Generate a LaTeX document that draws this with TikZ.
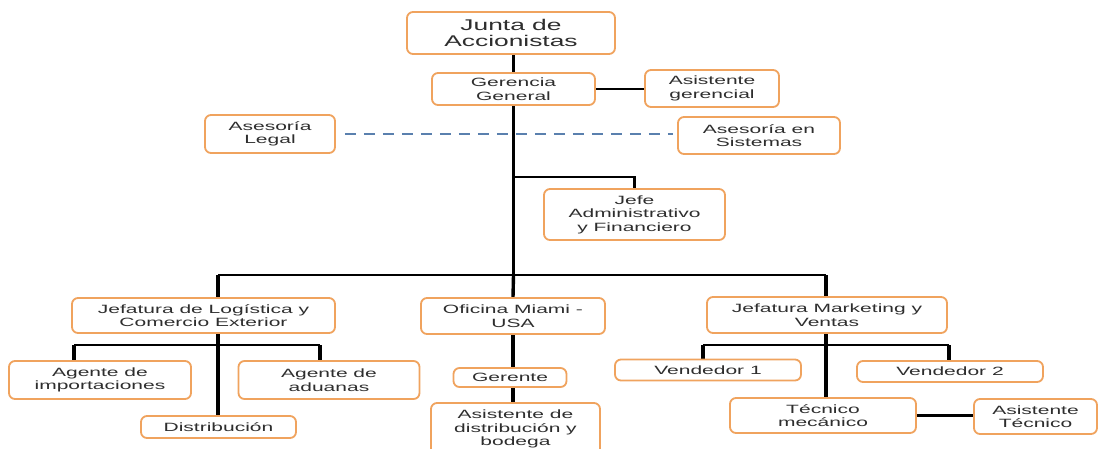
\documentclass[tikz,border=0pt]{standalone}
\usepackage{fontspec}
\setmainfont{Liberation Sans}
\newfontfamily\wf[FakeStretch=1.75]{Liberation Sans}
\newfontfamily\jf[FakeStretch=1.7]{Liberation Sans}
\usetikzlibrary{backgrounds}
\definecolor{boxor}{HTML}{F0A35E}
\definecolor{txt}{HTML}{2E2E2E}
\definecolor{dashc}{HTML}{5A80AE}
\begin{document}
\begin{tikzpicture}[x=1pt,y=-1pt,
  box/.style={draw=boxor, line width=1.8pt, rounded corners=6pt, fill=white,
    align=center, inner sep=1pt, text=txt,
    font={\wf\fontsize{12}{13.5}\selectfont}},
  conn/.style={draw=black, line width=2.4pt},
  vconn/.style={draw=black, line width=3.4pt},
  dashline/.style={draw=dashc, line width=1.8pt, dash pattern=on 11pt off 8pt}]
\useasboundingbox (0,0) rectangle (1099,448);
% nodes
\node[box, minimum width=208pt, minimum height=42pt, font={\jf\fontsize{15.5}{16}\selectfont}] (junta) at (511,33) {Junta de\\Accionistas};
\node[box, minimum width=163pt, minimum height=32pt] (gg) at (513.5,89) {Gerencia\\General};
\node[box, minimum width=134pt, minimum height=37pt] (asg) at (712,88.5) {Asistente\\gerencial};
\node[box, minimum width=130pt, minimum height=38pt] (legal) at (270,134) {Asesoría\\Legal};
\node[box, minimum width=162pt, minimum height=37pt] (sist) at (759,135.5) {Asesoría en\\Sistemas};
\node[box, minimum width=181pt, minimum height=51pt] (jefe) at (634.5,214.5) {Jefe\\Administrativo\\y Financiero};
\node[box, minimum width=263pt, minimum height=35pt] (log) at (203.5,315.5) {Jefatura de Logística y\\Comercio Exterior};
\node[box, minimum width=184pt, minimum height=36pt] (ofi) at (513,316) {Oficina Miami -\\USA};
\node[box, minimum width=240pt, minimum height=36pt] (mkt) at (827,315) {Jefatura Marketing y\\Ventas};
\node[box, minimum width=182pt, minimum height=38pt] (agimp) at (100,380) {Agente de\\importaciones};
\node[box, minimum width=181pt, minimum height=38pt] (agadu) at (329,380) {Agente de\\aduanas};
\node[box, minimum width=155pt, minimum height=22pt] (dist) at (218.5,427) {Distribución};
\node[box, minimum width=113pt, minimum height=19pt] (ger) at (510,377.5) {Gerente};
\node[box, minimum width=169pt, minimum height=52pt] (asd) at (515.5,429) {Asistente de\\distribución y\\bodega};
\node[box, minimum width=186pt, minimum height=21pt] (v1) at (708,370) {Vendedor 1};
\node[box, minimum width=186pt, minimum height=21pt] (v2) at (950,371.5) {Vendedor 2};
\node[box, minimum width=186pt, minimum height=35pt] (tec) at (823,415.5) {Técnico\\mecánico};
\node[box, minimum width=123pt, minimum height=35pt] (ast) at (1035.5,416.5) {Asistente\\Técnico};
% helper coordinates
\coordinate (j1) at (513.5,177);
\coordinate (bl) at (218,275);
\coordinate (bc) at (513.5,275);
\coordinate (br) at (826,275);
\coordinate (ll) at (74,345);
\coordinate (lr) at (320,345);
\coordinate (ml) at (703,345);
\coordinate (mr) at (949,345);
\begin{pgfonlayer}{background}
  \fill[white] (0,0) rectangle (1099,448);
  \draw[vconn] (gg.north) -- (gg.north |- junta.south);
  \draw[vconn] (gg.south) -- (bc);
  \draw[conn] (gg.east) -- (gg.east -| asg.west);
  \draw[dashline, shorten <=9pt, shorten >=4pt] (legal.east) -- (legal.east -| sist.west);
  \draw[conn] (j1) -| (jefe.north);
  \draw[conn] (bl) -- (br);
  \draw[vconn] (bl) -- (bl |- log.north);
  \draw[vconn] (br) -- (br |- mkt.north);
  \draw[vconn] (bc) -- (ofi.north);
  % logistics
  \draw[vconn] (bl |- log.south) -- (dist.north -| bl);
  \draw[conn] (ll) -- (lr);
  \draw[vconn] (ll) -- (ll |- agimp.north);
  \draw[vconn] (lr) -- (lr |- agadu.north);
  % miami
  \draw[vconn] (ofi.south) -- (ofi.south |- asd.north);
  % marketing
  \draw[vconn] (br |- mkt.south) -- (br |- tec.north);
  \draw[conn] (ml) -- (mr);
  \draw[vconn] (ml) -- (ml |- v1.north);
  \draw[vconn] (mr) -- (mr |- v2.north);
  \draw[conn] (tec.east) -- (tec.east -| ast.west);
\end{pgfonlayer}
\end{tikzpicture}
\end{document}
